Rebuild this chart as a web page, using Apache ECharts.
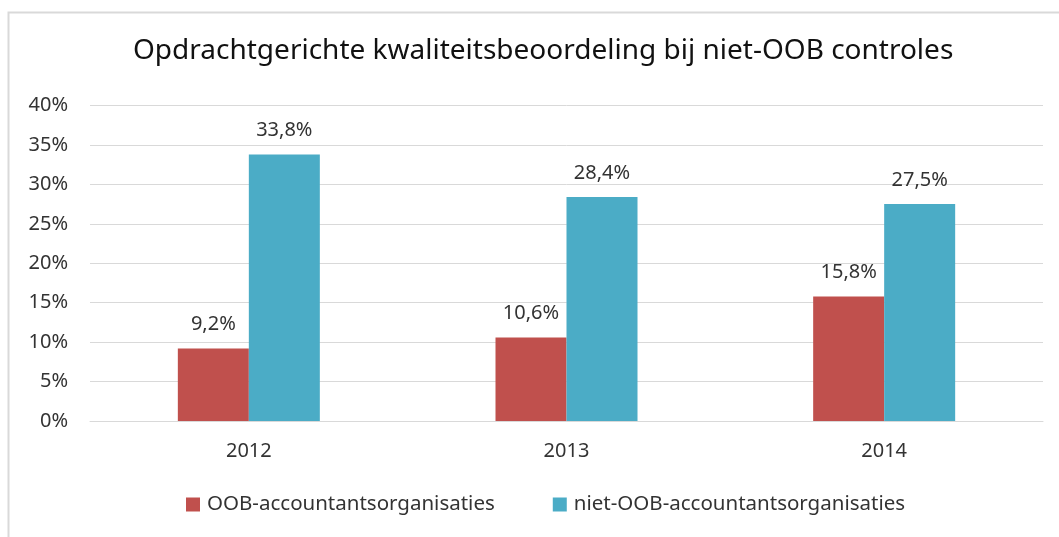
<!DOCTYPE html>
<html>
<head>
<meta charset="utf-8">
<script src="https://cdn.jsdelivr.net/npm/echarts@6/dist/echarts.min.js"></script>
<style>
  html, body { margin: 0; padding: 0; background: #fff; }
  #chart { width: 1059px; height: 537px; }
</style>
</head>
<body>
<div id="chart"></div>
<script>
const years = ['2012', '2013', '2014'];
const oobValues = [9.2, 10.6, 15.8];
const nietOobValues = [33.8, 28.4, 27.5];
const seriesNames = ['OOB-accountantsorganisaties', 'niet-OOB-accountantsorganisaties'];
const titleText = 'Opdrachtgerichte kwaliteitsbeoordeling bij niet-OOB controles';

const font = '"Noto Sans", sans-serif';
const fmtPct = (v) => v.toFixed(1).replace('.', ',') + '%';

const myChart = echarts.init(document.getElementById('chart'));

const barLabel = {
    show: true,
    position: 'top',
    distance: 14,
    color: '#333',
    fontSize: 20,
    fontFamily: font,
    formatter: (p) => fmtPct(p.value)
};

const option = {
    backgroundColor: '#fff',
    animation: false,
    graphic: [{
        type: 'rect',
        shape: {x: 8.5, y: 12.5, width: 1100, height: 600},
        style: {fill: 'none', stroke: '#d9d9d9', lineWidth: 2},
        silent: true
    }],
    title: {
        text: titleText,
        left: 128,
        top: 32,
        textStyle: {fontFamily: font, fontSize: 28, fontWeight: 'normal', color: '#111'}
    },
    legend: {
        bottom: 17,
        left: 181,
        itemWidth: 14,
        itemHeight: 14,
        itemGap: 58,
        icon: 'rect',
        textStyle: {fontFamily: font, fontSize: 20.5, color: '#333', padding: [0, 0, 0, 2]},
        data: seriesNames
    },
    grid: {left: 90, right: 16, top: 105.5, height: 315.5, containLabel: false},
    xAxis: {
        type: 'category',
        data: years,
        axisLine: {lineStyle: {color: '#d9d9d9'}},
        axisTick: {show: false},
        axisLabel: {fontFamily: font, fontSize: 20, color: '#333', margin: 20}
    },
    yAxis: {
        type: 'value',
        min: 0,
        max: 40,
        interval: 5,
        axisLine: {show: false},
        axisTick: {show: false},
        splitLine: {lineStyle: {color: '#d9d9d9'}},
        axisLabel: {fontFamily: font, fontSize: 20, color: '#333', margin: 22,
            formatter: (v) => v + '%'}
    },
    series: [
        {
            name: seriesNames[0],
            type: 'bar',
            data: oobValues,
            barWidth: 71,
            barGap: '0%',
            itemStyle: {color: '#c0504d'},
            label: barLabel
        },
        {
            name: seriesNames[1],
            type: 'bar',
            data: nietOobValues,
            barWidth: 71,
            barGap: '0%',
            itemStyle: {color: '#4bacc6'},
            label: barLabel
        }
    ]
};

myChart.setOption(option);
window.addEventListener('resize', myChart.resize, false);
</script>
</body>
</html>
